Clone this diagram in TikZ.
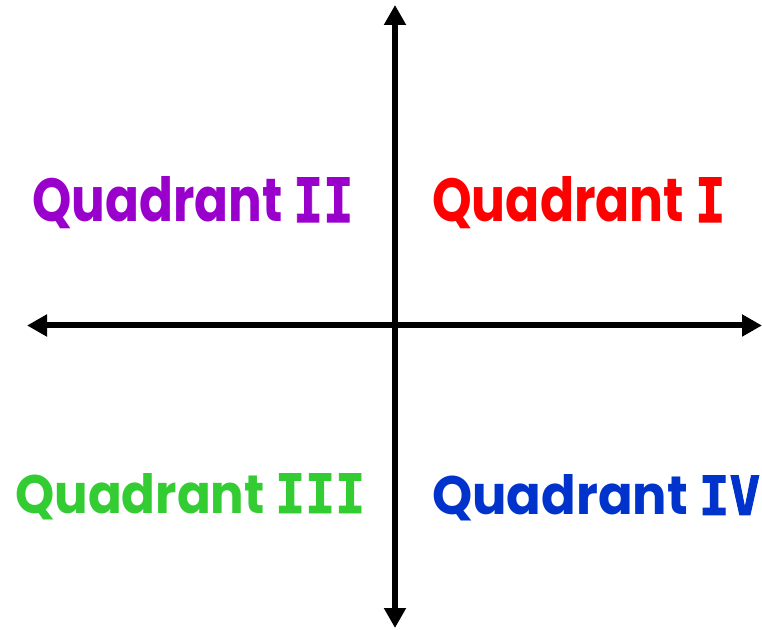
\documentclass[tikz,border=0pt]{standalone}
\usepackage{fontspec}
\setmainfont{Poppins}
\newfontfamily\numfont{DejaVu Sans Mono Bold}[FakeBold=1.8]
\usetikzlibrary{arrows.meta}
\definecolor{qone}{HTML}{FF0000}
\definecolor{qtwo}{HTML}{9900CC}
\definecolor{qthree}{HTML}{33CC33}
\definecolor{qfour}{HTML}{0033CC}
\newcommand{\qnum}[1]{{\numfont #1}}
\tikzset{
  axisline/.style={line width=6pt, -{Triangle[length=20pt,width=21pt]}},
  qlabel/.style={anchor=base west, inner sep=0pt, font=\bfseries}
}
\begin{document}
\begin{tikzpicture}[x=1pt,y=1pt]
\useasboundingbox (0,0) rectangle (762,629);
\coordinate (top) at (395,624);
\coordinate (bottom) at (395,1);
\coordinate (left) at (27,303.5);
\coordinate (right) at (762,303.5);
\coordinate (origin) at (395,303.5);
\draw[axisline] (origin) -- (top);
\draw[axisline] (origin) -- (bottom);
\draw[axisline] (origin) -- (left);
\draw[axisline] (origin) -- (right);
\node[qlabel, text=qtwo] (q2) at (32,407) {\resizebox{321pt}{45pt}{Quadrant \qnum{II}}};
\node[qlabel, text=qone] (q1) at (432,407) {\resizebox{293pt}{45pt}{Quadrant \qnum{I}}};
\node[qlabel, text=qthree] (q3) at (15,116) {\resizebox{350pt}{40pt}{Quadrant \qnum{III}}};
\node[qlabel, text=qfour] (q4) at (432,114) {\resizebox{328pt}{40pt}{Quadrant \qnum{IV}}};
\end{tikzpicture}
\end{document}
